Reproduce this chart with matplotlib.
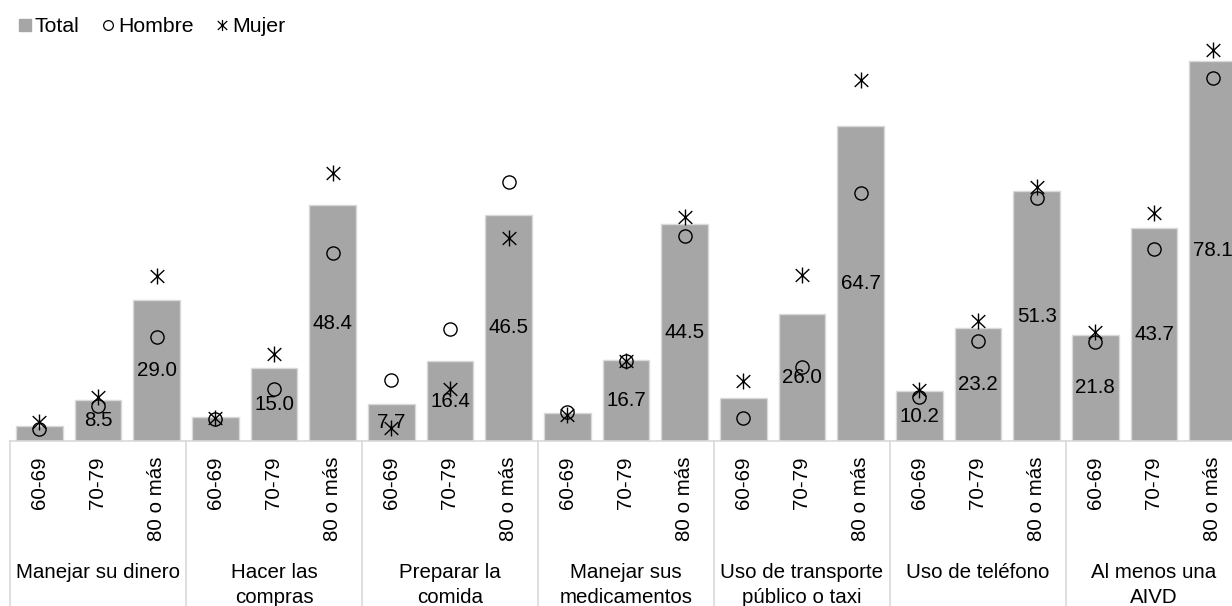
import matplotlib
matplotlib.use("Agg")
import matplotlib.pyplot as plt
import matplotlib.transforms as mtransforms
from matplotlib.path import Path
from matplotlib.lines import Line2D
import numpy as np

plt.rcParams['font.family'] = ['Liberation Sans', 'DejaVu Sans']

# Activity groups (category level) and age bands (sub-category level)
categories = [
    "Manejar su dinero",
    "Hacer las\ncompras",
    "Preparar la\ncomida",
    "Manejar sus\nmedicamentos",
    "Uso de transporte\npúblico o taxi",
    "Uso de teléfono",
    "Al menos una\nAIVD",
]
ages = ["60-69", "70-79", "80 o más"]

# Percentages, three age bands per activity in order
total = [3.1, 8.5, 29.0,
         4.9, 15.0, 48.4,
         7.7, 16.4, 46.5,
         5.7, 16.7, 44.5,
         8.8, 26.0, 64.7,
         10.2, 23.2, 51.3,
         21.8, 43.7, 78.1]
hombre = [2.5, 7.2, 21.3,
          4.6, 10.7, 38.6,
          12.5, 23.0, 53.1,
          5.9, 16.4, 42.1,
          4.8, 15.1, 51.0,
          9.0, 20.6, 49.8,
          20.4, 39.4, 74.6]
mujer = [4.0, 9.1, 33.9,
         4.8, 17.9, 55.0,
         2.7, 10.6, 41.6,
         5.3, 16.4, 45.9,
         12.4, 34.1, 74.1,
         10.5, 24.7, 52.2,
         22.4, 46.8, 80.3]
# Which bars carry a value label
show_label = [False, True, True,
              False, True, True,
              True, True, True,
              False, True, True,
              False, True, True,
              True, True, True,
              True, True, True]

BAR = "#a6a6a6"
GRID = "#d9d9d9"
FS = 14.8

fig = plt.figure(figsize=(12.32, 6.06), dpi=100)
W, H = 1232, 606
base_px, top_px = 441, 35
ax = fig.add_axes([10 / W, (H - base_px) / H, 1232 / W, (base_px - top_px) / H])

n = len(total)
x = np.arange(n)
ax.bar(x, total, width=0.8, color=BAR, edgecolor=GRID, linewidth=1.0, zorder=2)

# Asterisk-style marker: vertical stroke plus an X
ast_verts = [(0, -1), (0, 1), (-0.85, -0.8), (0.85, 0.8), (-0.85, 0.8), (0.85, -0.8)]
ast_codes = [Path.MOVETO, Path.LINETO] * 3
ast = Path(ast_verts, ast_codes)

ax.plot(x, hombre, linestyle="none", marker="o", markersize=9.5,
        markerfacecolor="none", markeredgecolor="black", markeredgewidth=1.0,
        zorder=4, clip_on=False)
ax.plot(x, mujer, linestyle="none", marker=ast, markersize=11.5,
        markerfacecolor="none", markeredgecolor="black", markeredgewidth=1.0,
        zorder=4, clip_on=False)

for xi, v, show in zip(x, total, show_label):
    if show:
        ax.text(xi, v / 2, f"{v:.1f}", ha="center", va="center",
                fontsize=FS, color="black", zorder=5)

ax.set_xlim(-0.5, n - 0.5)
ax.set_ylim(0, (base_px - top_px) / 4.87)
ax.set_yticks([])
for s in ax.spines.values():
    s.set_visible(False)
ax.axhline(0, color=GRID, linewidth=1.2, zorder=3, clip_on=False)

# Age band tick labels
ax.set_xticks(x)
ax.set_xticklabels(ages * len(categories), rotation=90, fontsize=FS)
ax.tick_params(axis="x", length=0, pad=11)

# Category labels and separators below the axis
trans = mtransforms.blended_transform_factory(ax.transData, ax.transAxes)
ax_h_px = base_px - top_px
bottom_y = -(H - base_px) / ax_h_px
for g, cat in enumerate(categories):
    ax.text(3 * g + 1, -(563 - base_px) / ax_h_px, cat, transform=trans,
            ha="center", va="top", fontsize=FS, linespacing=1.4)
for g in range(len(categories) + 1):
    xb = 3 * g - 0.5
    ax.plot([xb, xb], [0, bottom_y], transform=trans, color=GRID,
            linewidth=1.2, clip_on=False)

# Legend along the top
handles = [
    Line2D([], [], linestyle="none", marker="s", markersize=8,
           markerfacecolor=BAR, markeredgecolor=BAR),
    Line2D([], [], linestyle="none", marker="o", markersize=7,
           markerfacecolor="none", markeredgecolor="black", markeredgewidth=0.9),
    Line2D([], [], linestyle="none", marker=ast, markersize=8,
           markerfacecolor="none", markeredgecolor="black", markeredgewidth=0.9),
]
fig.legend(handles, ["Total", "Hombre", "Mujer"], loc="upper left",
           bbox_to_anchor=(19 / W, 1 - 17 / H), ncol=3, frameon=False,
           fontsize=15.3, handlelength=0.6, handletextpad=0.15,
           columnspacing=1.05, borderaxespad=0, borderpad=0)

fig.savefig("out.png", dpi=100)
